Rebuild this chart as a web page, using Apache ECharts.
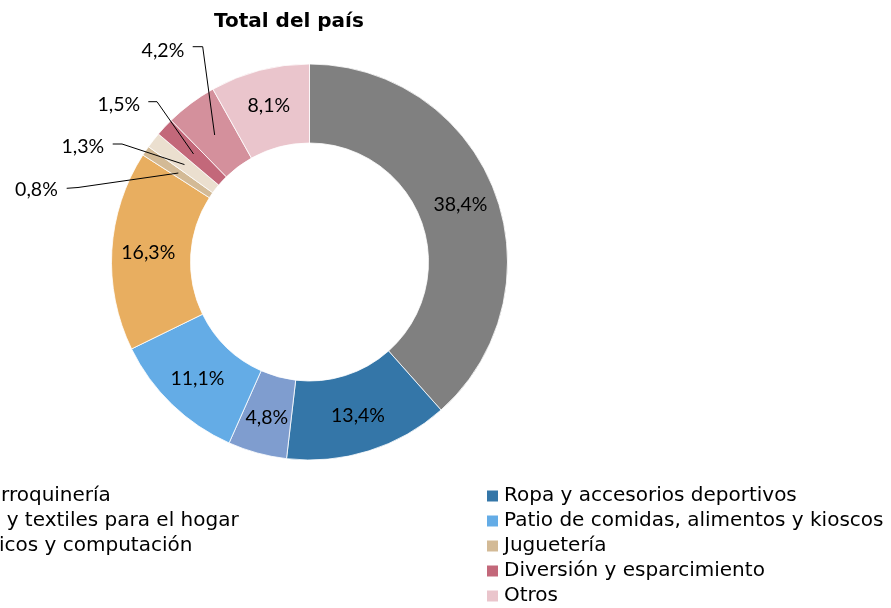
<!DOCTYPE html>
<html>
<head>
<meta charset="utf-8">
<script src="https://cdn.jsdelivr.net/npm/echarts@6/dist/echarts.min.js"></script>
<style>
    html, body {margin: 0; padding: 0; background: #fff;}
    #chart {width: 891px; height: 608px;}
</style>
</head>
<body>
<div id="chart"></div>
<script>
const rubros = [
    'Indumentaria, calzado y marroquinería',
    'Ropa y accesorios deportivos',
    'Amoblamientos, decoración y textiles para el hogar',
    'Patio de comidas, alimentos y kioscos',
    'Electrónicos, electrodomésticos y computación',
    'Juguetería',
    'Librería y papelería',
    'Diversión y esparcimiento',
    'Perfumería y farmacia',
    'Otros'
];
const participacion = [38.4, 13.4, 4.8, 11.1, 16.3, 0.8, 1.3, 1.5, 4.2, 8.1];
const colores = ['#808080', '#3476a8', '#7f9dcf', '#64ace6', '#e8ae60',
    '#d3ba96', '#ebdfcf', '#c3687a', '#d4909c', '#eac5cc'];

// pie geometry
const cx = 309.5, cy = 262, rIn = 119, rOut = 198;
const rMid = (rIn + rOut) / 2;

// small slices labelled outside: label right/middle, then line start and elbow
const llamadas = {
    5: {label: [57.8, 190], linea: [[66.7, 188.3], [78, 187.5]]},
    6: {label: [104.2, 146.5], linea: [[112.7, 144], [122, 144]]},
    7: {label: [140.2, 104.8], linea: [[148.3, 101.7], [157, 101.7]]},
    8: {label: [184.3, 50.3], linea: [[192.7, 46.7], [202.7, 46.7]]}
};

const total = participacion.reduce((a, b) => a + b, 0);
const puntoMedio = function (i) {
    let acum = 0;
    for (let k = 0; k < i; k++)
        acum += participacion[k];
    const ang = (acum + participacion[i] / 2) / total * 2 * Math.PI;
    return [cx + rMid * Math.sin(ang), cy - rMid * Math.cos(ang)];
};
const formato = p => p.value.toFixed(1).replace('.', ',') + '%';
const labelFont = {fontFamily: 'Lato', fontSize: 19.5, color: '#000'};

// ring with the inside labels
const datosAnillo = rubros.map((nombre, i) => ({
        name: nombre,
        value: participacion[i],
        itemStyle: {color: colores[i]},
        label: {show: !llamadas[i]}
    }));
// same ring, transparent, on top: only carries the callouts so their lines sit over the slices
const datosLlamadas = rubros.map((nombre, i) => ({
        name: nombre,
        value: participacion[i],
        label: {show: !!llamadas[i]},
        labelLine: {show: !!llamadas[i]}
    }));

const legendBase = {
    orient: 'vertical',
    top: 486,
    padding: 0,
    itemWidth: 13,
    itemHeight: 13,
    itemGap: 5,
    icon: 'rect',
    selectedMode: false,
    textStyle: {fontFamily: 'DejaVu Sans', fontSize: 20, lineHeight: 20, color: '#000'}
};

const chart = echarts.init(document.getElementById('chart'));
chart.setOption({
    animation: false,
    title: {
        text: 'Total del país',
        left: 214,
        top: 12,
        padding: 0,
        textStyle: {fontFamily: 'DejaVu Sans', fontSize: 20, fontWeight: 'bold', color: '#000'}
    },
    legend: [
        Object.assign({}, legendBase, {left: -298, data: rubros.filter((n, i) => i % 2 === 0)}),
        Object.assign({}, legendBase, {left: 485, data: rubros.filter((n, i) => i % 2 === 1)})
    ],
    series: [{
            type: 'pie',
            center: [cx, cy],
            radius: [rIn, rOut],
            startAngle: 90,
            clockwise: true,
            avoidLabelOverlap: false,
            silent: true,
            itemStyle: {borderColor: '#fff', borderWidth: 0.8},
            label: Object.assign({position: 'inside', formatter: formato}, labelFont),
            labelLine: {show: false},
            data: datosAnillo
        }, {
            type: 'pie',
            z: 3,
            center: [cx, cy],
            radius: [rIn, rOut],
            startAngle: 90,
            clockwise: true,
            avoidLabelOverlap: false,
            silent: true,
            itemStyle: {color: 'rgba(0,0,0,0)'},
            label: Object.assign({position: 'outside', formatter: formato}, labelFont),
            labelLine: {lineStyle: {color: '#000', width: 1}},
            labelLayout: function (params) {
                const c = llamadas[params.dataIndex];
                if (!c)
                    return {};
                return {
                    x: c.label[0],
                    y: c.label[1],
                    align: 'right',
                    verticalAlign: 'middle',
                    labelLinePoints: [puntoMedio(params.dataIndex), c.linea[1], c.linea[0]]
                };
            },
            data: datosLlamadas
        }]
});
</script>
</body>
</html>
